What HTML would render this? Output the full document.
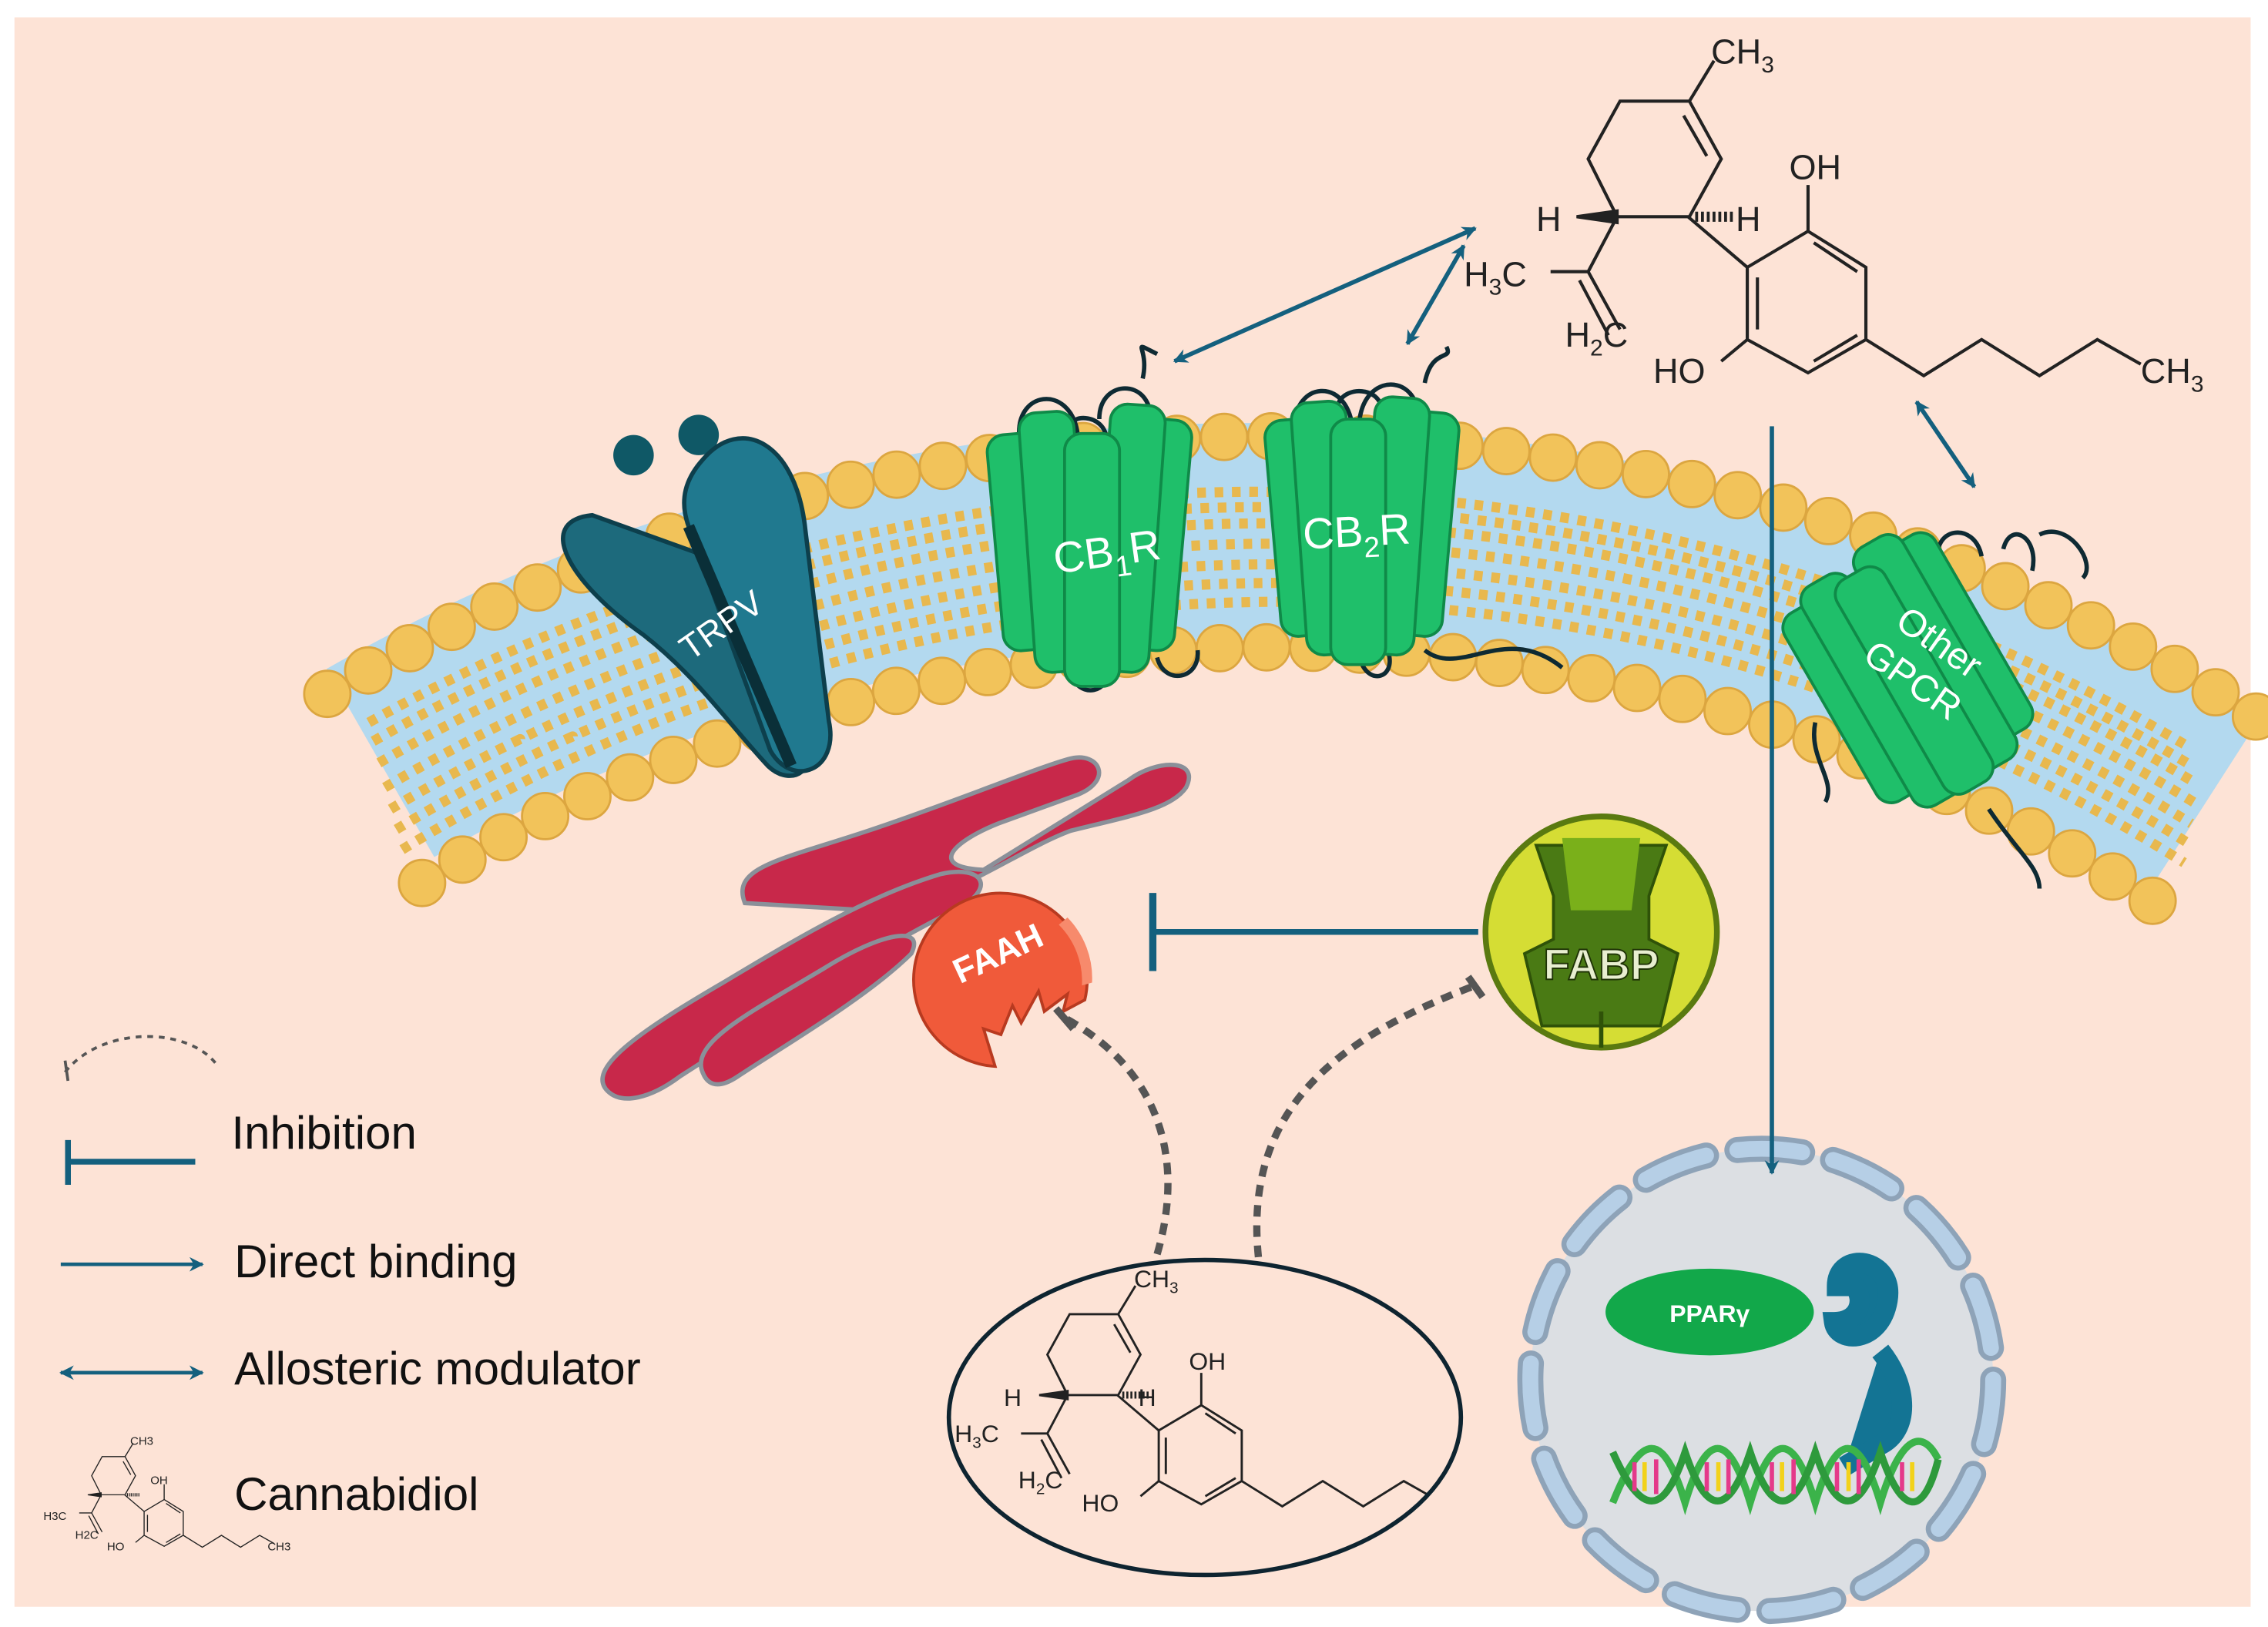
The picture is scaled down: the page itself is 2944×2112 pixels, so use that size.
<!DOCTYPE html>
<html><head><meta charset="utf-8"><style>
html,body{margin:0;padding:0;background:#fff}
svg{display:block}
text{font-family:"Liberation Sans",sans-serif}
</style></head><body>
<svg id="s" width="2944" height="2112" viewBox="0 0 1568 1126" preserveAspectRatio="none" xmlns="http://www.w3.org/2000/svg">
<defs>
<marker id="ah" markerWidth="10" markerHeight="10" refX="9" refY="5" orient="auto-start-reverse" markerUnits="userSpaceOnUse"><path d="M0,0 L10,5 L0,10 L3,5 z" fill="#14607e"/></marker>
<clipPath id="ec"><ellipse cx="833" cy="981" rx="177" ry="109"/></clipPath>
<g id="cbd" fill="none" stroke="#222" stroke-width="2.2">
<path d="M1120,70 L1168,70 L1190,110 L1168,150 L1118,150 L1098,110 Z"/>
<path d="M1164,80 L1180,108" />
<path d="M1168,70 L1185,42"/>
<path d="M1118,150 L1098,188 L1072,188"/>
<path d="M1098,188 L1120,228 M1092,194 L1112,232"/>
<path d="M1167,150 L1208,185"/>
<path d="M1208,185 L1250,160 L1290,185 L1290,235 L1250,258 L1208,235 Z"/>
<path d="M1215,192 L1215,228 M1254,168 L1284,188 M1254,250 L1284,232"/>
<path d="M1250,160 L1250,128 M1208,235 L1190,250"/>
<path d="M1290,235 L1330,260 L1370,235 L1410,260 L1450,235 L1480,252"/>
<path d="M1090,150 L1118,146 L1118,154 Z" fill="#222"/>
<path d="M1172,150 L1200,150" stroke-dasharray="2 2" stroke-width="7"/>
</g>
</defs>
<rect width="1568" height="1126" fill="#fff"/>
<rect x="10" y="12" width="1546" height="1100" fill="#fde3d6"/>

<!-- membrane -->
<g id="mem">
<path d="M263,528 A1215,1215 0 0 1 1522,560" fill="none" stroke="#b3d9ef" stroke-width="150"/>
<g fill="none" stroke="#e8b84e" stroke-width="7" stroke-dasharray="6 6">
<path d="M255,500 A1262,1262 0 0 1 1510,515"/>
<path d="M258,513 A1245,1245 0 0 1 1512,528"/>
<path d="M262,528 A1228,1228 0 0 1 1518,542"/>
<path d="M266,545 A1212,1212 0 0 1 1518,556"/>
<path d="M270,560 A1198,1198 0 0 1 1515,570"/>
<path d="M274,574 A1182,1182 0 0 1 1512,583"/>
<path d="M278,588 A1166,1166 0 0 1 1510,597"/>
</g>
</g>
<g id="heads" fill="#f2c35a" stroke="#dca640" stroke-width="1.5"></g>

<!-- TRPV -->
<circle cx="438" cy="315" r="14" fill="#0f5866"/>
<circle cx="483" cy="301" r="14" fill="#0f5866"/>
<g transform="rotate(-20 500 430)">
<path d="M440,330 C400,320 410,370 445,420 C470,460 480,500 495,535 C505,555 530,550 525,520 L500,380 Z" fill="#1d6a7c" stroke="#0d3f4c" stroke-width="3"/>
<path d="M525,320 C560,300 590,330 575,390 L545,520 C540,555 505,555 500,525 L500,360 C500,340 510,328 525,320 Z" fill="#20798f" stroke="#0d3f4c" stroke-width="3"/>
<path d="M500,360 L510,540" stroke="#0a2f38" stroke-width="8"/>
<text x="500" y="440" font-size="24" fill="#fff" text-anchor="middle" transform="rotate(-15 500 440)">TRPV</text>
</g>

<!-- loops -->
<g stroke="#0e2a33" stroke-width="3" fill="none">
<path d="M705,305 C700,270 740,265 745,300 M760,290 C760,260 800,262 795,295 M790,262 C795,240 780,235 800,245 M740,300 C735,285 765,285 765,305"/>
<path d="M740,465 C745,485 770,480 765,460 M800,455 C805,475 830,470 828,450"/>
<path d="M895,295 C895,265 930,260 935,295 M940,290 C945,255 985,260 980,295 M985,265 C990,240 1005,250 1000,240 M925,280 C930,265 960,268 955,290"/>
<path d="M940,455 C945,475 965,470 960,452 M985,450 C1010,470 1040,430 1080,462"/>
<path d="M1255,500 C1250,525 1270,540 1262,555 M1340,390 C1335,365 1365,360 1370,385 M1385,380 C1390,360 1410,372 1405,395 M1410,370 C1430,360 1450,390 1440,400 M1375,560 C1395,590 1410,600 1410,615"/>
</g>
<g fill="#1fbf6a" stroke="#0f8a48" stroke-width="2">
<rect x="688" y="300" width="38" height="150" rx="12" transform="rotate(-5 707 375)"/>
<rect x="780" y="290" width="38" height="160" rx="12" transform="rotate(5 800 370)"/>
<rect x="710" y="285" width="38" height="180" rx="12" transform="rotate(-4 729 375)"/>
<rect x="762" y="280" width="38" height="185" rx="12" transform="rotate(4 781 372)"/>
<rect x="736" y="300" width="38" height="175" rx="12"/>
<rect x="880" y="290" width="38" height="150" rx="12" transform="rotate(-5 899 365)"/>
<rect x="965" y="285" width="38" height="155" rx="12" transform="rotate(5 984 362)"/>
<rect x="898" y="278" width="38" height="175" rx="12" transform="rotate(-4 917 365)"/>
<rect x="945" y="275" width="38" height="178" rx="12" transform="rotate(4 964 364)"/>
<rect x="920" y="290" width="38" height="170" rx="12"/>
<g transform="rotate(-30 1335 455)">
<rect x="1255" y="380" width="38" height="150" rx="12"/>
<rect x="1340" y="375" width="38" height="155" rx="12"/>
<rect x="1275" y="370" width="38" height="175" rx="12"/>
<rect x="1320" y="365" width="38" height="178" rx="12"/>
<rect x="1298" y="378" width="38" height="170" rx="12"/>
</g>
</g>
<text x="765" y="392" font-size="30" fill="#fff" text-anchor="middle" transform="rotate(-8 765 380)">CB<tspan font-size="20" dy="8">1</tspan><tspan dy="-8">R</tspan></text>
<text x="938" y="378" font-size="30" fill="#fff" text-anchor="middle" transform="rotate(-3 938 370)">CB<tspan font-size="20" dy="8">2</tspan><tspan dy="-8">R</tspan></text>
<g transform="rotate(35 1330 460)" font-size="26" fill="#fff" text-anchor="middle"><text x="1330" y="450">Other</text><text x="1330" y="482">GPCR</text></g>

<!-- ER -->
<g fill="#c8284a" stroke="#8a9099" stroke-width="3">
<path d="M515,625 C505,600 540,595 600,575 C660,555 720,530 740,525 C760,520 770,540 745,550 L690,570 C660,582 640,600 680,602 L780,540 C800,525 830,525 820,545 C810,560 780,565 740,575 C700,590 650,630 600,630 Z"/>
<path d="M420,755 C405,740 440,715 500,680 C550,650 600,620 650,605 C680,598 690,615 660,630 C600,660 540,700 470,745 C450,760 430,765 420,755 Z"/>
<path d="M485,740 C480,720 520,700 570,670 C610,645 640,640 630,660 C600,690 540,725 510,745 C495,755 488,750 485,740 Z"/>
</g>

<!-- FAAH -->
<path d="M750,692 L735,700 L738,688 L722,700 L718,686 L706,708 L700,696 L692,716 L680,712 L688,738 A60,60 0 1 1 750,692 Z" fill="#f05a3a" stroke="#b83a20" stroke-width="2"/>
<path d="M738,635 A60,60 0 0 1 755,680 L748,682 A55,55 0 0 0 732,640 Z" fill="#f78a6c"/>
<text x="690" y="668" font-size="24" font-weight="bold" fill="#fff" text-anchor="middle" transform="rotate(-25 690 660)">FAAH</text>

<!-- inhibition -->
<path d="M1022,645 L797,645" stroke="#14607e" stroke-width="4"/>
<path d="M797,618 L797,672" stroke="#14607e" stroke-width="5"/>

<!-- FABP -->
<circle cx="1107" cy="645" r="80" fill="#d5dd34" stroke="#5a7a10" stroke-width="4"/>
<path d="M1062,585 L1152,585 L1140,620 L1140,650 L1160,660 L1148,710 L1066,710 L1054,660 L1074,650 L1074,620 Z" fill="#4a7a14" stroke="#2f5208" stroke-width="2"/>
<path d="M1080,580 L1134,580 L1128,630 L1086,630 Z" fill="#7ab01a"/>
<path d="M1107,700 L1107,725" stroke="#2f5208" stroke-width="3"/>
<text x="1107" y="678" font-size="30" font-weight="bold" fill="#e8eed0" stroke="#1f3306" stroke-width="1" text-anchor="middle">FABP</text>

<!-- dashed curves -->
<path d="M800,868 C820,800 800,740 737,705" fill="none" stroke="#555" stroke-width="5" stroke-dasharray="8 6"/>
<path d="M870,870 C860,770 920,720 1020,682" fill="none" stroke="#555" stroke-width="5" stroke-dasharray="8 6"/>
<path d="M730,698 L742,712 M1015,676 L1025,690" stroke="#555" stroke-width="5"/>

<!-- nucleus -->
<circle cx="1218" cy="955" r="160" fill="#dcdfe3"/>
<circle cx="1218" cy="955" r="160" fill="none" stroke="#8ea3b8" stroke-width="18" stroke-dasharray="45 22" stroke-linecap="round"/>
<circle cx="1218" cy="955" r="160" fill="none" stroke="#b6cfe6" stroke-width="11" stroke-dasharray="45 22" stroke-linecap="round"/>
<ellipse cx="1182" cy="908" rx="72" ry="30" fill="#12a84a"/>
<text x="1182" y="915" font-size="17" font-weight="bold" fill="#fff" text-anchor="middle">PPARγ</text>
<path d="M1270,890 C1270,865 1310,870 1305,900 C1300,930 1270,930 1268,915 C1285,915 1290,900 1282,890 Z M1300,935 C1320,960 1320,990 1300,1000 L1275,1015" fill="#137494" stroke="#137494" stroke-width="14"/>
<g fill="none" stroke-width="5">
<path d="M1115,1040 C1135,990 1150,990 1165,1040 C1180,990 1195,990 1210,1040 C1225,990 1240,990 1255,1040 C1270,990 1285,990 1300,1040 C1315,990 1330,990 1340,1010" stroke="#3bb34a"/>
<path d="M1115,1005 C1135,1050 1150,1050 1165,1005 C1180,1050 1195,1050 1210,1005 C1225,1050 1240,1050 1255,1005 C1270,1050 1285,1050 1300,1005 C1315,1050 1330,1050 1340,1010" stroke="#2e9a3c"/>
</g>
<g stroke-width="3"><path d="M1130,1012 v20 M1145,1010 v24 M1180,1012 v20 M1195,1010 v24 M1225,1012 v20 M1240,1010 v24 M1270,1012 v20 M1285,1010 v24 M1315,1012 v20" stroke="#e43a8a"/><path d="M1137,1012 v20 M1188,1012 v20 M1232,1012 v20 M1278,1012 v20 M1322,1012 v20" stroke="#f2d21a"/></g>

<!-- arrows -->
<path d="M1225,295 L1225,812" stroke="#14607e" stroke-width="3" marker-end="url(#ah)"/>
<path d="M812,250 L1020,158" stroke="#14607e" stroke-width="3" marker-start="url(#ah)" marker-end="url(#ah)"/>
<path d="M973,238 L1012,170" stroke="#14607e" stroke-width="3" marker-start="url(#ah)" marker-end="url(#ah)"/>
<path d="M1325,278 L1365,337" stroke="#14607e" stroke-width="3" marker-start="url(#ah)" marker-end="url(#ah)"/>

<!-- top CBD -->
<use href="#cbd"/>
<g font-size="24" fill="#222">
<text x="1183" y="44">CH<tspan font-size="16" dy="6">3</tspan></text>
<text x="1237" y="124">OH</text>
<text x="1062" y="160">H</text>
<text x="1200" y="160">H</text>
<text x="1012" y="198">H<tspan font-size="16" dy="6">3</tspan><tspan dy="-6">C</tspan></text>
<text x="1082" y="240">H<tspan font-size="16" dy="6">2</tspan><tspan dy="-6">C</tspan></text>
<text x="1143" y="265">HO</text>
<text x="1480" y="265">CH<tspan font-size="16" dy="6">3</tspan></text>
</g>

<!-- ellipse CBD -->
<g clip-path="url(#ec)">
<g transform="translate(-44.5,860.5) scale(0.7)"><use href="#cbd"/></g>
<g font-size="17" fill="#222">
<text x="784" y="891">CH<tspan font-size="11" dy="4">3</tspan></text>
<text x="822" y="948">OH</text>
<text x="694" y="973">H</text>
<text x="787" y="973">H</text>
<text x="660" y="998">H<tspan font-size="11" dy="4">3</tspan><tspan dy="-4">C</tspan></text>
<text x="704" y="1030">H<tspan font-size="11" dy="4">2</tspan><tspan dy="-4">C</tspan></text>
<text x="748" y="1046">HO</text>
</g>
</g>
<ellipse cx="833" cy="981" rx="177" ry="109" fill="none" stroke="#0e2430" stroke-width="3"/>

<!-- legend -->
<path d="M45,742 C70,710 130,710 150,737" fill="none" stroke="#555" stroke-width="2" stroke-dasharray="4 4"/>
<path d="M45,734 L47,748" stroke="#555" stroke-width="2"/>
<path d="M47,789 L47,820 M47,804 L135,804" stroke="#14607e" stroke-width="4"/>
<path d="M42,875 L140,875" stroke="#14607e" stroke-width="2.5" marker-end="url(#ah)"/>
<path d="M42,950 L140,950" stroke="#14607e" stroke-width="2.5" marker-start="url(#ah)" marker-end="url(#ah)"/>
<g transform="translate(-299,985) scale(0.33)"><use href="#cbd"/></g>
<g font-size="8" fill="#222"><text x="90" y="1000">CH3</text><text x="104" y="1027">OH</text><text x="30" y="1052">H3C</text><text x="52" y="1065">H2C</text><text x="74" y="1073">HO</text><text x="185" y="1073">CH3</text></g>
<g font-size="32" fill="#111">
<text x="160" y="795">Inhibition</text>
<text x="162" y="884">Direct binding</text>
<text x="162" y="958">Allosteric modulator</text>
<text x="162" y="1045">Cannabidiol</text>
</g>
<script>
(function(){
var g=document.getElementById('heads'),ns='http://www.w3.org/2000/svg',cx=880,cy=1590;
function row(R,a0,a1,step){for(var a=a0;a<=a1;a+=step){var t=a*Math.PI/180;var c=document.createElementNS(ns,'circle');c.setAttribute('cx',(cx+R*Math.sin(t)).toFixed(1));c.setAttribute('cy',(cy-R*Math.cos(t)).toFixed(1));c.setAttribute('r','16');g.appendChild(c);}}
row(1288,-30.5,32,1.45);
row(1142,-31,33.5,1.62);
var m=document.getElementById('mem');m.parentNode.insertBefore(g,m.nextSibling);
})();
</script>
</svg>
</body></html>
